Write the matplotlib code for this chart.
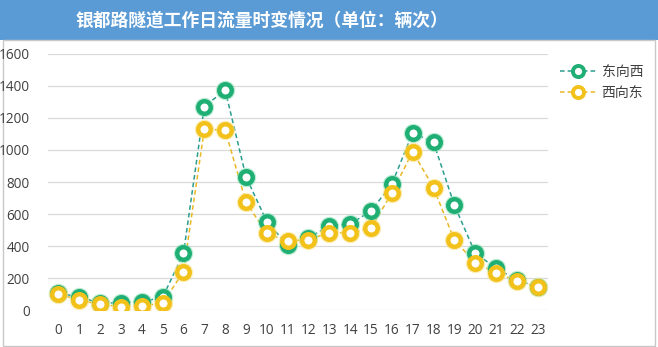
import matplotlib.pyplot as plt
from matplotlib.patches import Rectangle
from matplotlib.lines import Line2D

plt.rcParams['font.family'] = ['Noto Sans CJK SC', 'DejaVu Sans']

hours = list(range(24))
east_to_west = [104, 83, 42, 46, 52, 79, 354, 1271, 1375, 833, 552, 406,
                450, 527, 537, 619, 787, 1108, 1048, 656, 356, 262, 188, 144]
west_to_east = [100, 62, 35, 21, 27, 42, 240, 1129, 1125, 673, 479, 431,
                440, 483, 483, 512, 731, 990, 765, 437, 296, 231, 183, 144]
series_names = ['东向西', '西向东']
title = '银都路隧道工作日流量时变情况（单位：辆次）'

green, green_line, green_glow = '#1fae74', '#2a9d8f', '#8ee0b8'
yellow, yellow_line, yellow_glow = '#f2c21b', '#e9b825', '#f9e38a'

fig = plt.figure(figsize=(6.58, 3.47), dpi=100)

# header banner and outer frame (behind the axes)
fig.patches.append(Rectangle((0, 0.885), 1, 0.115, transform=fig.transFigure,
                             facecolor='#5b9bd5', edgecolor='none', zorder=-2))
fig.patches.append(Rectangle((0.004, 0.004), 0.992, 0.88, transform=fig.transFigure,
                             facecolor='white', edgecolor='#c8c8c8', lw=1, zorder=-1))
fig.text(0.398, 0.942, title, color='white', fontsize=12.8, ha='center', va='center',
         fontweight='bold')

ax = fig.add_axes([0.073, 0.1066, 0.76, 0.7378])
ax.set_facecolor('none')

for vals, c, lc, gc in [(east_to_west, green, green_line, green_glow),
                        (west_to_east, yellow, yellow_line, yellow_glow)]:
    ax.plot(hours, vals, color=lc, ls=(0, (3, 2)), lw=1.1, zorder=2)
    ax.plot(hours, vals, ls='none', marker='o', ms=14, mfc=gc, mec='none',
            alpha=0.6, zorder=3)
    ax.plot(hours, vals, ls='none', marker='o', ms=9, mfc='white', mec=c,
            mew=3.2, zorder=4)

ax.set_xlim(-0.5, 23.5)
ax.set_ylim(0, 1600)
ax.set_yticks(range(0, 1601, 200))
ax.set_xticks(hours)
ax.yaxis.grid(True, color='#d9d9d9', lw=0.9)
ax.set_axisbelow(True)
for s in ax.spines.values():
    s.set_visible(False)
ax.tick_params(length=0, labelsize=9.8, colors='#404040')
ax.tick_params(axis='x', pad=9)
ax.tick_params(axis='y', pad=13)
for lbl in ax.get_xticklabels() + ax.get_yticklabels():
    lbl.set_family(['Open Sans', 'DejaVu Sans'])

handles = [
    Line2D([], [], color=green_line, ls=(0, (3, 2)), lw=1.1, marker='o', ms=8,
           mfc='white', mec=green, mew=2.8),
    Line2D([], [], color=yellow_line, ls=(0, (3, 2)), lw=1.1, marker='o', ms=8,
           mfc='white', mec=yellow, mew=2.8),
]
fig.legend(handles, series_names, loc='upper left', bbox_to_anchor=(0.832, 0.85),
           frameon=False, fontsize=10, handlelength=2.6, labelspacing=0.5,
           handletextpad=0.4, labelcolor='#404040')

fig.savefig('out.png', dpi=100)
